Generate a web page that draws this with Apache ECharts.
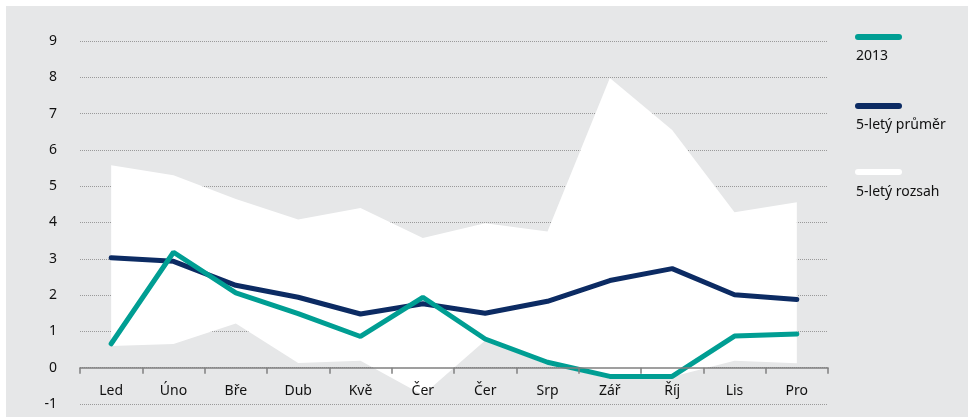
<!DOCTYPE html>
<html>
<head>
<meta charset="utf-8">
<script src="https://cdn.jsdelivr.net/npm/echarts@6/dist/echarts.min.js"></script>
<style>
  html, body { margin: 0; padding: 0; background: #ffffff; }
  #chart { position: absolute; left: 6px; top: 6px; width: 962px; height: 411px; }
</style>
</head>
<body>
<div id="chart"></div>
<script>
// měsíce
const months = ['Led', 'Úno', 'Bře', 'Dub', 'Kvě', 'Čer', 'Čer', 'Srp', 'Zář', 'Říj', 'Lis', 'Pro']
// 2013
const values2013 = [0.66, 3.18, 2.06, 1.49, 0.86, 1.94, 0.79, 0.15, -0.24, -0.24, 0.87, 0.93]
// 5-letý průměr
const avg5y = [3.03, 2.93, 2.27, 1.94, 1.48, 1.76, 1.5, 1.83, 2.4, 2.73, 2.01, 1.88]
// 5-letý rozsah (min / max)
const rangeLow = [0.6, 0.65, 1.22, 0.13, 0.19, -0.75, 0.75, 0.08, -0.3, -0.25, 0.19, 0.12]
const rangeHigh = [5.58, 5.3, 4.65, 4.08, 4.4, 3.57, 3.98, 3.75, 7.98, 6.55, 4.28, 4.56]
// osa y
const yTicks = [-1, 0, 1, 2, 3, 4, 5, 6, 7, 8, 9]
// legenda
const legendNames = ['2013', '5-letý průměr', '5-letý rozsah']

const teal = '#009e93'
const navy = '#0c2b63'
const legendColors = [teal, navy, '#ffffff']
const font = 'Noto Sans'
const textColor = '#111111'

let myChart = echarts.init(document.getElementById('chart'))

// rozdíl max - min pro skládanou plochu
const rangeSpan = rangeHigh.map((v, i) => +(v - rangeLow[i]).toFixed(2))

// legenda: ikona jako samostatná legenda, text pod ní jako graphic
const legendTops = [28, 97, 163]
const legendTextY = [53, 122, 189]
// zaoblená čárka v legendě
const capsule = 'path://M3,0 L44,0 A3,3 0 0 1 44,6 L3,6 A3,3 0 0 1 3,0 Z'

let option = {
    backgroundColor: '#e6e7e8',
    animation: false,
    legend: legendNames.map((name, i) => ({
        left: 849,
        top: legendTops[i],
        padding: 0,
        itemWidth: 47,
        itemHeight: 6,
        icon: capsule,
        selectedMode: false,
        formatter: () => '',
        data: [{ name: name, itemStyle: { color: legendColors[i] } }]
    })),
    graphic: legendNames.map((name, i) => ({
        type: 'text',
        left: 850,
        top: legendTextY[i] - 10,
        style: {
            text: name,
            fontFamily: font,
            fontSize: 14,
            fill: textColor
        }
    })),
    grid: {
        left: 74,
        right: 140,
        top: 35,
        bottom: 13,
        outerBoundsMode: 'none'
    },
    xAxis: {
        type: 'category',
        data: months,
        boundaryGap: true,
        z: 5,
        axisLine: {
            onZero: true,
            lineStyle: { color: '#808080', width: 1.5 }
        },
        axisTick: {
            show: true,
            interval: 0,
            length: 6,
            lineStyle: { color: '#808080', width: 1.5 }
        },
        axisLabel: {
            interval: 0,
            margin: -20,
            fontFamily: font,
            fontSize: 14,
            color: textColor
        },
        splitLine: { show: false }
    },
    yAxis: {
        type: 'value',
        min: yTicks[0],
        max: yTicks[yTicks.length - 1],
        interval: 1,
        axisLine: { show: false },
        axisTick: { show: false },
        axisLabel: {
            margin: 23,
            fontFamily: font,
            fontSize: 14,
            color: textColor
        },
        splitLine: {
            lineStyle: { color: '#9a9a9a', type: 'dotted', width: 1 }
        }
    },
    series: [
        {
            name: 'min',
            type: 'line',
            stack: 'range',
            stackStrategy: 'all',
            data: rangeLow,
            symbol: 'none',
            lineStyle: { width: 0, opacity: 0 },
            itemStyle: { color: 'transparent' },
            silent: true
        },
        {
            name: '5-letý rozsah',
            type: 'line',
            stack: 'range',
            stackStrategy: 'all',
            data: rangeSpan,
            symbol: 'none',
            itemStyle: { color: '#ffffff' },
            lineStyle: { width: 0, opacity: 0 },
            areaStyle: { color: '#ffffff', opacity: 1 },
            silent: true
        },
        {
            name: '5-letý průměr',
            type: 'line',
            data: avg5y,
            symbol: 'none',
            itemStyle: { color: navy },
            lineStyle: { color: navy, width: 5, cap: 'round' }
        },
        {
            name: '2013',
            type: 'line',
            data: values2013,
            symbol: 'none',
            itemStyle: { color: teal },
            lineStyle: { color: teal, width: 5, cap: 'round' }
        }
    ]
}

myChart.setOption(option)
</script>
</body>
</html>
